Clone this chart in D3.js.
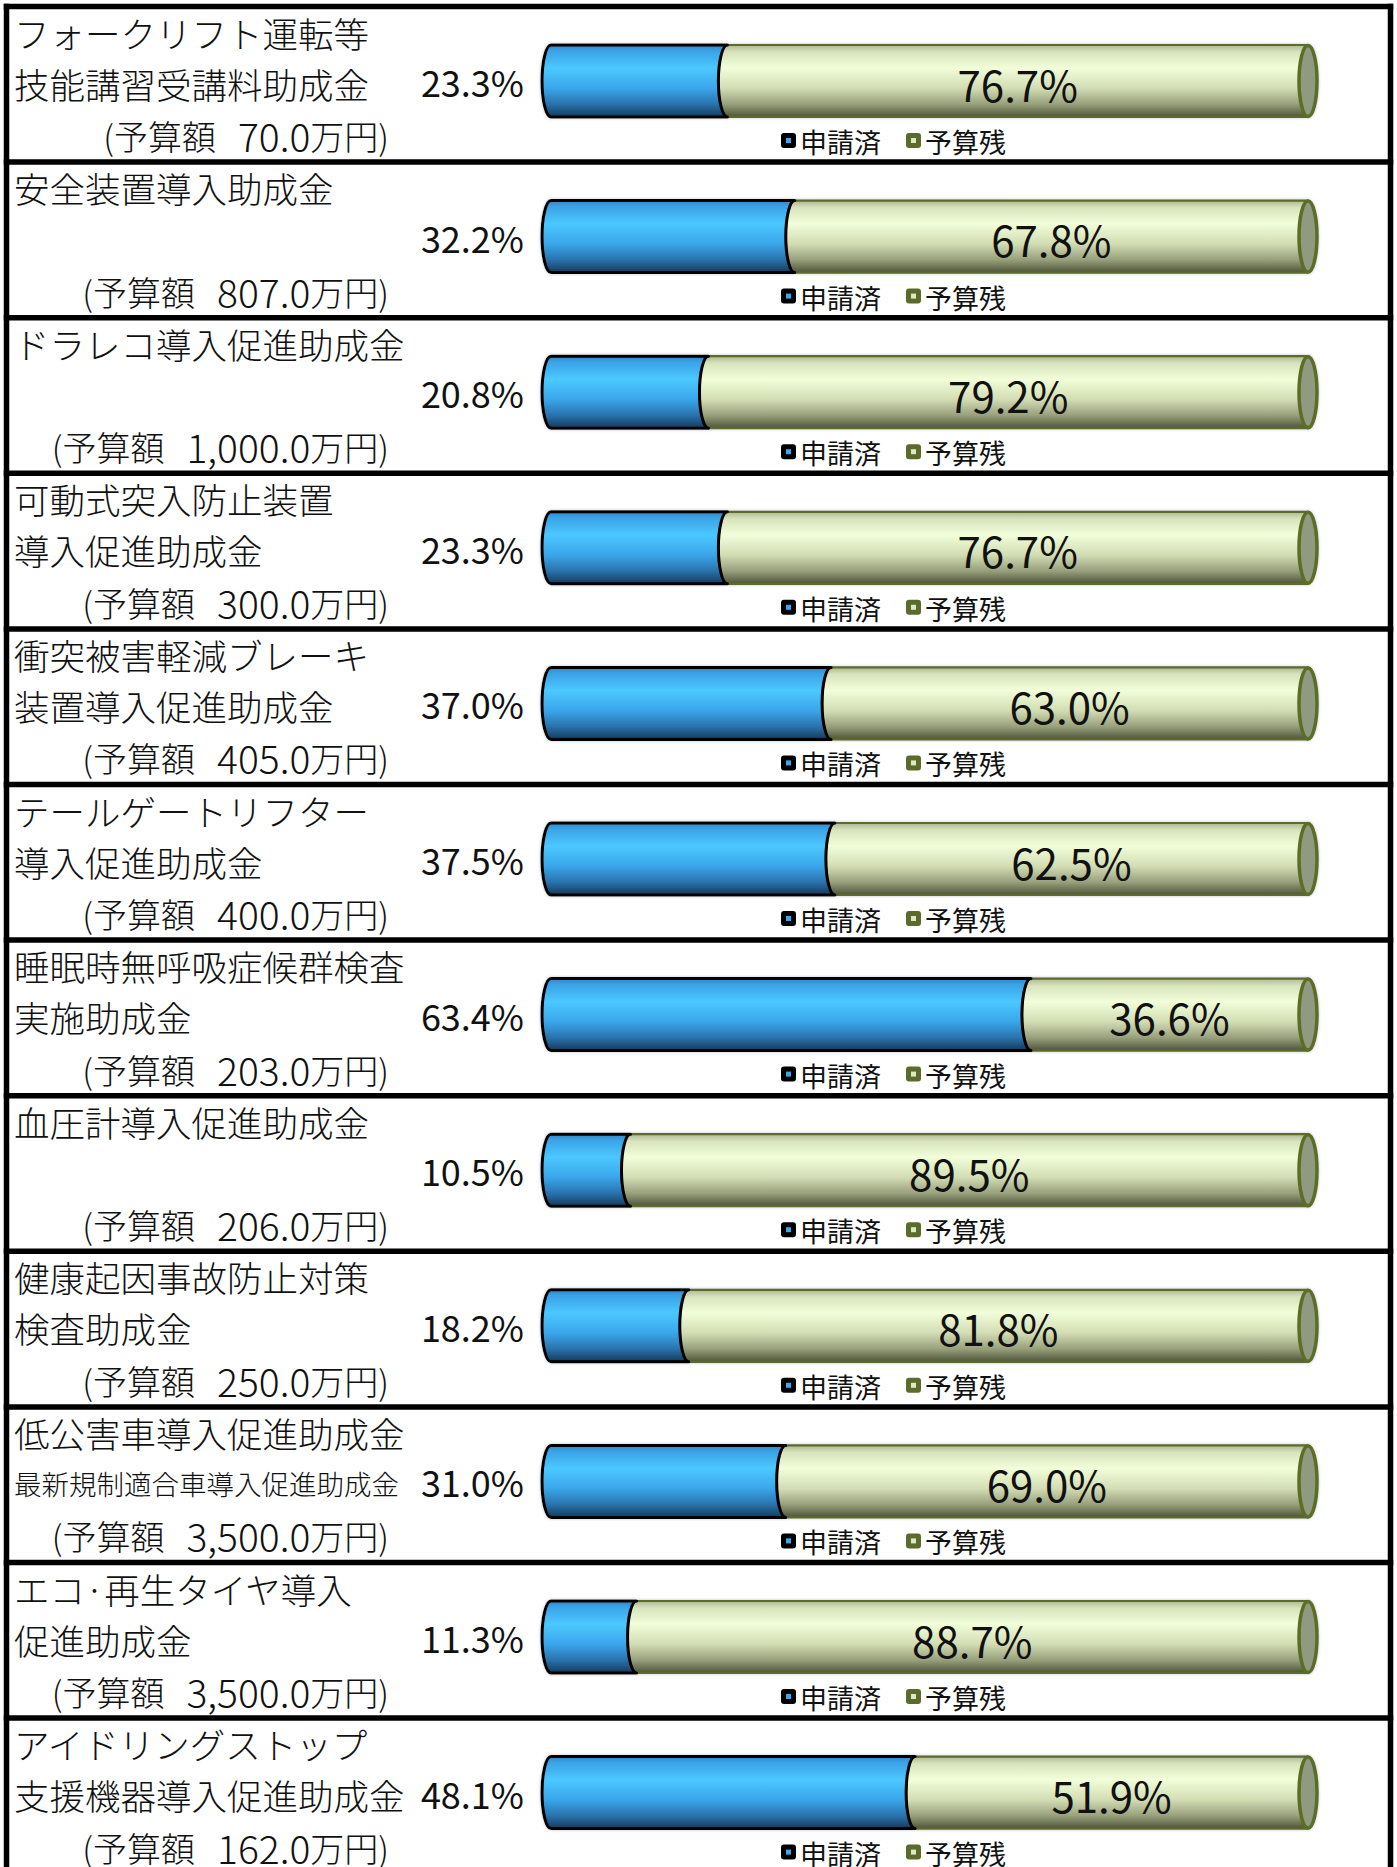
<!DOCTYPE html>
<html lang="ja">
<head>
<meta charset="utf-8">
<title>助成金 予算執行状況</title>
<script src="https://cdn.jsdelivr.net/npm/d3@7"></script>
<style>
  html, body { margin: 0; padding: 0; background: #fff; }
  svg { display: block; }
  text { font-family: "Noto Sans CJK JP", "Noto Sans", sans-serif; font-weight: 300; fill: #111; white-space: pre; }
  text.pct, text.legend { font-weight: 400; }
</style>
</head>
<body>
<svg id="chart" width="1397" height="1867"></svg>
<script>
// 助成金ごとの名称（2行）、予算額（万円）、申請済・予算残の割合（%）
const titleLine1 = [
  "フォークリフト運転等", "安全装置導入助成金", "ドラレコ導入促進助成金", "可動式突入防止装置",
  "衝突被害軽減ブレーキ", "テールゲートリフター", "睡眠時無呼吸症候群検査", "血圧計導入促進助成金",
  "健康起因事故防止対策", "低公害車導入促進助成金", "エコ·再生タイヤ導入", "アイドリングストップ"
];
const titleLine2 = [
  "技能講習受講料助成金", "", "", "導入促進助成金",
  "装置導入促進助成金", "導入促進助成金", "実施助成金", "",
  "検査助成金", "最新規制適合車導入促進助成金", "促進助成金", "支援機器導入促進助成金"
];
const budgets = [70.0, 807.0, 1000.0, 300.0, 405.0, 400.0, 203.0, 206.0, 250.0, 3500.0, 3500.0, 162.0];
const applied   = [23.3, 32.2, 20.8, 23.3, 37.0, 37.5, 63.4, 10.5, 18.2, 31.0, 11.3, 48.1];
const remaining = [76.7, 67.8, 79.2, 76.7, 63.0, 62.5, 36.6, 89.5, 81.8, 69.0, 88.7, 51.9];
const seriesNames = ["申請済", "予算残"];

const W = 1397, H = 1867;
const svg = d3.select("#chart");

// 区画のレイアウト
const frameLeft = 6.5, frameRight = 1390.5, frameTop = 6.5, rowH = 155.6;
const rows = d3.range(titleLine1.length);

// 円柱グラフの寸法
const x = d3.scaleLinear().domain([0, 100]).range([551, 1308]);
const barTop = 38.5, barH = 72, ry = barH / 2, rx = 9;

const fmtPct = d3.format(".1f");
const fmtBudget = d3.format(",.1f");

// グラデーション
const defs = svg.append("defs");
const blueGrad = defs.append("linearGradient").attr("id", "gBlue").attr("x1", 0).attr("y1", 0).attr("x2", 0).attr("y2", 1);
[[0, "#3385c6"], [0.08, "#3aa2e6"], [0.32, "#4cc8ff"], [0.6, "#3aa6ea"], [0.82, "#2a73ad"], [1, "#143a5a"]]
  .forEach(([o, c]) => blueGrad.append("stop").attr("offset", o).attr("stop-color", c));
const greenGrad = defs.append("linearGradient").attr("id", "gGreen").attr("x1", 0).attr("y1", 0).attr("x2", 0).attr("y2", 1);
[[0, "#aeb894"], [0.1, "#d8e4bc"], [0.32, "#f1fed9"], [0.6, "#d3ddb4"], [0.82, "#98a07c"], [1, "#4f5439"]]
  .forEach(([o, c]) => greenGrad.append("stop").attr("offset", o).attr("stop-color", c));
const shadow = defs.append("filter").attr("id", "soft").attr("x", "-5%").attr("y", "-20%").attr("width", "110%").attr("height", "140%");
shadow.append("feGaussianBlur").attr("in", "SourceAlpha").attr("stdDeviation", 1.5).attr("result", "b");
shadow.append("feFlood").attr("flood-color", "#999").attr("flood-opacity", 0.6).attr("result", "c");
shadow.append("feComposite").attr("in", "c").attr("in2", "b").attr("operator", "in").attr("result", "s");
const fm = shadow.append("feMerge");
fm.append("feMergeNode").attr("in", "s");
fm.append("feMergeNode").attr("in", "SourceGraphic");

svg.append("rect").attr("width", W).attr("height", H).attr("fill", "#fff");

const panel = svg.selectAll("g.panel").data(rows).join("g")
  .attr("class", "panel")
  .attr("transform", i => `translate(0,${frameTop + i * rowH})`);

// 名称と予算額
panel.append("text")
  .attr("x", 14).attr("y", 25.5).attr("dominant-baseline", "central")
  .attr("font-size", 35.5)
  .text(i => titleLine1[i]);
panel.append("text")
  .attr("x", 14).attr("y", 76.5).attr("dominant-baseline", "central")
  .attr("font-size", i => titleLine2[i].length > 11 ? 27.5 : 35.5)
  .text(i => titleLine2[i]);
const budgetText = panel.append("text")
  .attr("x", 389).attr("y", 128.5).attr("dominant-baseline", "central")
  .attr("text-anchor", "end").attr("font-size", 34);
budgetText.append("tspan").text("(予算額");
budgetText.append("tspan").attr("dx", 22).attr("font-size", 39).text(i => fmtBudget(budgets[i]));
budgetText.append("tspan").text("万円)");

// 申請済の割合ラベル
panel.append("text").attr("class", "pct")
  .attr("x", 524).attr("y", barTop + ry).attr("dominant-baseline", "central")
  .attr("text-anchor", "end").attr("font-size", 36)
  .text(i => fmtPct(applied[i]) + "%");

// 円柱の形状
function bluePath(i) {
  const x0 = x(0), xs = x(applied[i]), t = barTop, b = barTop + barH;
  return `M${x0},${t}L${xs},${t}A${rx},${ry} 0 0 0 ${xs},${b}L${x0},${b}A${rx},${ry} 0 0 1 ${x0},${t}Z`;
}
function greenPath(i) {
  const xs = x(applied[i]), xe = x(applied[i] + remaining[i]), t = barTop, b = barTop + barH;
  return `M${xs},${t}L${xe},${t}A${rx},${ry} 0 0 1 ${xe},${b}L${xs},${b}A${rx},${ry} 0 0 1 ${xs},${t}Z`;
}

const bar = panel.append("g").attr("filter", "url(#soft)");
bar.append("path").attr("d", greenPath)
  .attr("fill", "url(#gGreen)").attr("stroke", "#5b6b2b").attr("stroke-width", 2.2);
bar.append("ellipse")
  .attr("cx", i => x(applied[i] + remaining[i])).attr("cy", barTop + ry)
  .attr("rx", rx).attr("ry", ry - 0.5)
  .attr("fill", "#8f9a80").attr("stroke", "#5b6e25").attr("stroke-width", 3.5);
bar.append("path").attr("d", bluePath)
  .attr("fill", "url(#gBlue)").attr("stroke", "#000").attr("stroke-width", 3)
  .attr("stroke-linejoin", "round");

// 予算残の割合ラベル
panel.append("text").attr("class", "pct")
  .attr("x", i => (x(applied[i]) + x(applied[i] + remaining[i])) / 2)
  .attr("y", barTop + ry + 2).attr("dominant-baseline", "central")
  .attr("text-anchor", "middle").attr("font-size", 42)
  .text(i => fmtPct(remaining[i]) + "%");

// 凡例
const legendY = 134;
const legendItems = [
  { name: seriesNames[0], x: 781, outer: "#000", inner: "#3aa8f0" },
  { name: seriesNames[1], x: 906, outer: "#5b6b2b", inner: "#dfe8c4" }
];
legendItems.forEach(d => {
  panel.append("rect").attr("x", d.x).attr("y", legendY - 7.5).attr("width", 15).attr("height", 15)
    .attr("rx", 3).attr("fill", d.outer);
  panel.append("rect").attr("x", d.x + 5).attr("y", legendY - 2.5).attr("width", 5).attr("height", 5)
    .attr("fill", d.inner);
  panel.append("text").attr("class", "legend").attr("x", d.x + 19).attr("y", legendY + 1).attr("dominant-baseline", "central")
    .attr("font-size", 27).text(d.name);
});

// 枠線
const frame = svg.append("g").attr("stroke", "#000").attr("stroke-width", 5.5);
frame.selectAll("line.h").data(rows).join("line").attr("class", "h")
  .attr("x1", frameLeft - 2.75).attr("x2", frameRight + 2.75)
  .attr("y1", i => frameTop + i * rowH).attr("y2", i => frameTop + i * rowH);
frame.append("line").attr("x1", frameLeft).attr("x2", frameLeft).attr("y1", frameTop - 2.75).attr("y2", H);
frame.append("line").attr("x1", frameRight).attr("x2", frameRight).attr("y1", frameTop - 2.75).attr("y2", H);
</script>
</body>
</html>
